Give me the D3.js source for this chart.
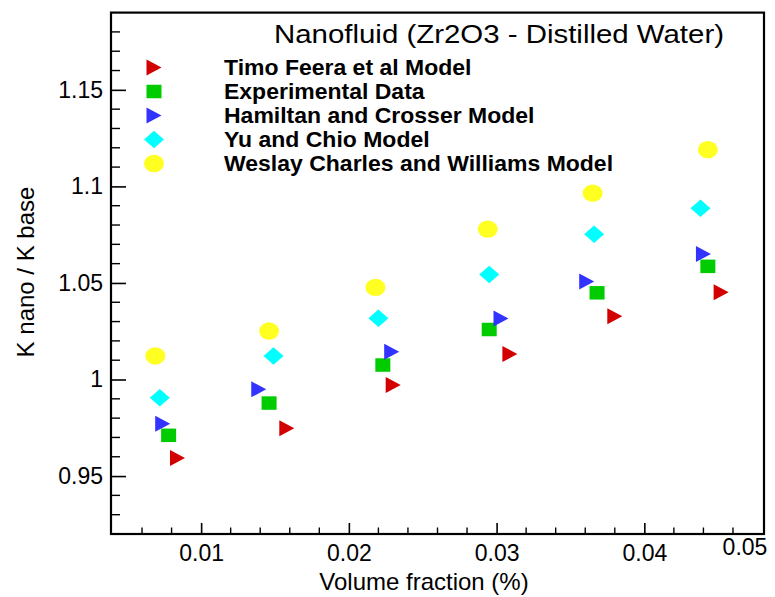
<!DOCTYPE html>
<html>
<head>
<meta charset="utf-8">
<script src="https://cdn.jsdelivr.net/npm/d3@7"></script>
<style>
  html, body { margin: 0; padding: 0; background: #fff; }
  svg { display: block; font-family: "Liberation Sans", Arial, sans-serif; }
</style>
</head>
<body>
<svg id="chart" width="775" height="597"></svg>
<script>
// ---- data ----
const chartTitle = "Nanofluid (Zr2O3 - Distilled Water)";
const xTitle = "Volume fraction (%)";
const yTitle = "K nano / K base";
const seriesNames = ["Timo Feera et al Model", "Experimental Data", "Hamiltan and Crosser Model", "Yu and Chio Model", "Weslay Charles and Williams Model"];
const timoX = [0.0084, 0.0158, 0.0230, 0.0309, 0.0380, 0.0452];
const timoY = [0.9594, 0.9748, 0.9971, 1.0132, 1.0328, 1.0452];
const expX  = [0.0078, 0.0146, 0.0223, 0.0295, 0.0368, 0.0443];
const expY  = [0.9711, 0.9878, 1.0075, 1.0259, 1.0449, 1.0586];
const hamX  = [0.0074, 0.0139, 0.0229, 0.0303, 0.0361, 0.0440];
const hamY  = [0.9771, 0.9949, 1.0144, 1.0316, 1.0508, 1.0650];
const yuX   = [0.0072, 0.0149, 0.0220, 0.0295, 0.0366, 0.0438];
const yuY   = [0.9906, 1.0122, 1.0317, 1.0544, 1.0752, 1.0887];
const wesX  = [0.0069, 0.0146, 0.0218, 0.0294, 0.0365, 0.0443];
const wesY  = [1.0122, 1.0251, 1.0477, 1.0779, 1.0965, 1.1190];
const xTickValues = [0.01, 0.02, 0.03, 0.04, 0.05];
const xTickLabels = ["0.01", "0.02", "0.03", "0.04", "0.05"];
const yTickValues = [0.95, 1.0, 1.05, 1.1, 1.15];
const yTickLabels = ["0.95", "1", "1.05", "1.1", "1.15"];
const xDomain = [0.0039, 0.0481];
const yDomain = [0.92, 1.19];

// ---- styles ----
const shapes = ["tri", "square", "tri", "diamond", "circle"];
const colors = ["#d20000", "#00cc00", "#3333ff", "#00ffff", "#ffff22"];
const xs = [timoX, expX, hamX, yuX, wesX];
const ys = [timoY, expY, hamY, yuY, wesY];

const svg = d3.select("#chart");
const L = 111, R = 764, T = 12.6, B = 534;
const x = d3.scaleLinear().domain(xDomain).range([L, R]);
const y = d3.scaleLinear().domain(yDomain).range([B, T]);

function drawMarker(g, shape, color) {
  if (shape === "tri") {
    g.append("path").attr("d", "M-7.5,-8L7.5,0L-7.5,8Z").attr("fill", color);
  } else if (shape === "square") {
    g.append("rect").attr("x", -7.5).attr("y", -6.75).attr("width", 15).attr("height", 13.5).attr("fill", color);
  } else if (shape === "diamond") {
    g.append("path").attr("d", "M0,-8.75L10,0L0,8.75L-10,0Z").attr("fill", color);
  } else {
    g.append("ellipse").attr("rx", 10).attr("ry", 8.7).attr("fill", color);
  }
}

// minor ticks
const minorX = d3.range(0.006, 0.0465, 0.002).filter(v => Math.abs(v * 100 - Math.round(v * 100)) > 1e-6);
const minorY = d3.range(0.93, 1.1805, 0.01).filter(v => Math.abs(v * 20 - Math.round(v * 20)) > 1e-6);

const gx = svg.append("g").attr("transform", `translate(0,${B})`)
  .call(d3.axisBottom(x).tickValues(xTickValues.filter(v => v <= xDomain[1]))
    .tickFormat((d) => xTickLabels[xTickValues.indexOf(d)]).tickSize(-11).tickPadding(10));
gx.select(".domain").remove();
gx.selectAll("line").attr("stroke", "#000").attr("stroke-width", 1.6);
gx.selectAll("text").attr("font-size", 23).attr("fill", "#000").attr("dy", "0.75em");
// labels beyond the axis end are clamped at the right edge (as in the original)
xTickValues.forEach((v, i) => {
  if (v > xDomain[1]) {
    svg.append("text").attr("x", R - 19).attr("y", B + 21).attr("text-anchor", "middle")
      .attr("font-size", 23).attr("fill", "#000").text(xTickLabels[i]);
  }
});
svg.append("g").selectAll("line").data(minorX).join("line")
  .attr("x1", d => x(d)).attr("x2", d => x(d)).attr("y1", B).attr("y2", B - 6.5)
  .attr("stroke", "#000").attr("stroke-width", 1.4);

const gy = svg.append("g").attr("transform", `translate(${L},0)`)
  .call(d3.axisLeft(y).tickValues(yTickValues)
    .tickFormat((d) => yTickLabels[yTickValues.indexOf(d)]).tickSize(-15).tickPadding(8));
gy.select(".domain").remove();
gy.selectAll("line").attr("stroke", "#000").attr("stroke-width", 1.6);
gy.selectAll("text").attr("font-size", 23).attr("fill", "#000");
svg.append("g").selectAll("line").data(minorY).join("line")
  .attr("x1", L).attr("x2", L + 9).attr("y1", d => y(d)).attr("y2", d => y(d))
  .attr("stroke", "#000").attr("stroke-width", 1.4);

// frame
svg.append("rect").attr("x", L).attr("y", T).attr("width", R - L).attr("height", B - T)
  .attr("fill", "none").attr("stroke", "#000").attr("stroke-width", 2.2);

// axis titles
svg.append("text").attr("x", 424).attr("y", 590).attr("text-anchor", "middle")
  .attr("font-size", 24).attr("fill", "#000").text(xTitle);
svg.append("text").attr("transform", "translate(34,272) rotate(-90)").attr("text-anchor", "middle")
  .attr("font-size", 24).attr("fill", "#000").text(yTitle);

// data points
seriesNames.forEach((name, s) => {
  const g = svg.append("g");
  xs[s].forEach((xv, i) => {
    const m = g.append("g").attr("transform", `translate(${x(xv)},${y(ys[s][i])})`);
    drawMarker(m, shapes[s], colors[s]);
  });
});

// legend
svg.append("text").attr("x", 274).attr("y", 43).attr("font-size", 25)
  .attr("textLength", 450).attr("lengthAdjust", "spacingAndGlyphs").attr("fill", "#000").text(chartTitle);
const leg = svg.append("g");
seriesNames.forEach((name, s) => {
  const ry = 67.5 + 24 * s;
  const m = leg.append("g").attr("transform", `translate(154,${ry})`);
  drawMarker(m, shapes[s], colors[s]);
  const t = leg.append("text").attr("x", 224).attr("y", ry + 7.5).attr("font-size", 22)
    .attr("font-weight", "bold").attr("fill", "#000").text(name);
  const w = t.node().getComputedTextLength();
  t.attr("textLength", w * 1.045).attr("lengthAdjust", "spacingAndGlyphs");
});
</script>
</body>
</html>
